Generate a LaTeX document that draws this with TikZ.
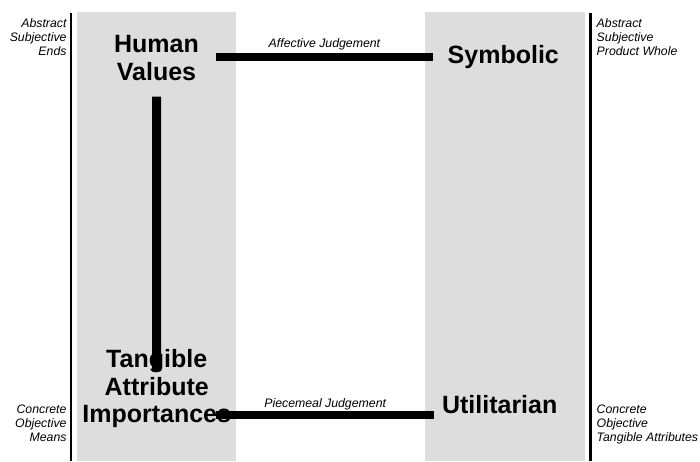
\documentclass[tikz,border=0pt]{standalone}
\usepackage{fontspec}
\newfontfamily\arialf{Liberation Sans}
\usetikzlibrary{calc}
\definecolor{panelgray}{HTML}{DDDDDD}
\tikzset{
  big/.style={font=\arialf\bfseries\fontsize{25}{27.6}\selectfont, align=center, inner sep=0pt},
  side/.style={font=\arialf\itshape\fontsize{12.3}{14}\selectfont, inner sep=0pt},
  edgelbl/.style={font=\arialf\itshape\fontsize{12.3}{14}\selectfont, inner sep=0pt, anchor=base},
  bar/.style={line width=8pt, black},
  vbar/.style={line width=9pt, black},
  rule/.style={line width=2.6pt, black},
  panel/.style={fill=panelgray, draw=none}
}
\begin{document}
\begin{tikzpicture}[x=1pt,y=-1pt]
  \useasboundingbox[fill=white] (0,0) rectangle (700,461);
  % panels
  \fill[panel] (77,12) rectangle (236,461);
  \fill[panel] (425,12) rectangle (585,461);
  % vertical rules
  \draw[rule] (71,12.5) -- (71,461);
  \draw[rule] (590.3,12.5) -- (590.3,461);
  % main nodes
  \node[big, anchor=north] (hv) at (156.5,35.2) {Human\\Values};
  \node[big, anchor=base] (sym) at (503.3,63) {Symbolic};
  \node[big, anchor=north] (tai) at (156.7,349.2) {Tangible\\Attribute\\Importances};
  \node[big, anchor=base] (util) at (499.7,413) {Utilitarian};
  % side labels
  \node[side, anchor=north east, align=right] (tl) at (66.7,18.6) {Abstract\\Subjective\\Ends};
  \node[side, anchor=north west, align=left] (tr) at (596.5,18.6) {Abstract\\Subjective\\Product Whole};
  \node[side, anchor=north east, align=right] (bl) at (66.7,404.3) {Concrete\\Objective\\Means};
  \node[side, anchor=north west, align=left] (br) at (596.5,404.3) {Concrete\\Objective\\Tangible Attributes};
  % connectors
  \draw[vbar] ($(hv.south)+(0,16)$) -- ($(tai.north)+(0,22)$);
  \draw[bar] ($(hv.east |- sym.west)+(17.3,0.3)$) -- node[edgelbl, yshift=9.4pt] (aj) {Affective Judgement} ($(sym.west)+(-15,0.3)$);
  \draw[bar] ($(tai.east |- util.west)+(-15,11)$) -- node[edgelbl, yshift=7.8pt] (pj) {Piecemeal Judgement} ($(util.west)+(-7.7,11)$);
\end{tikzpicture}
\end{document}
